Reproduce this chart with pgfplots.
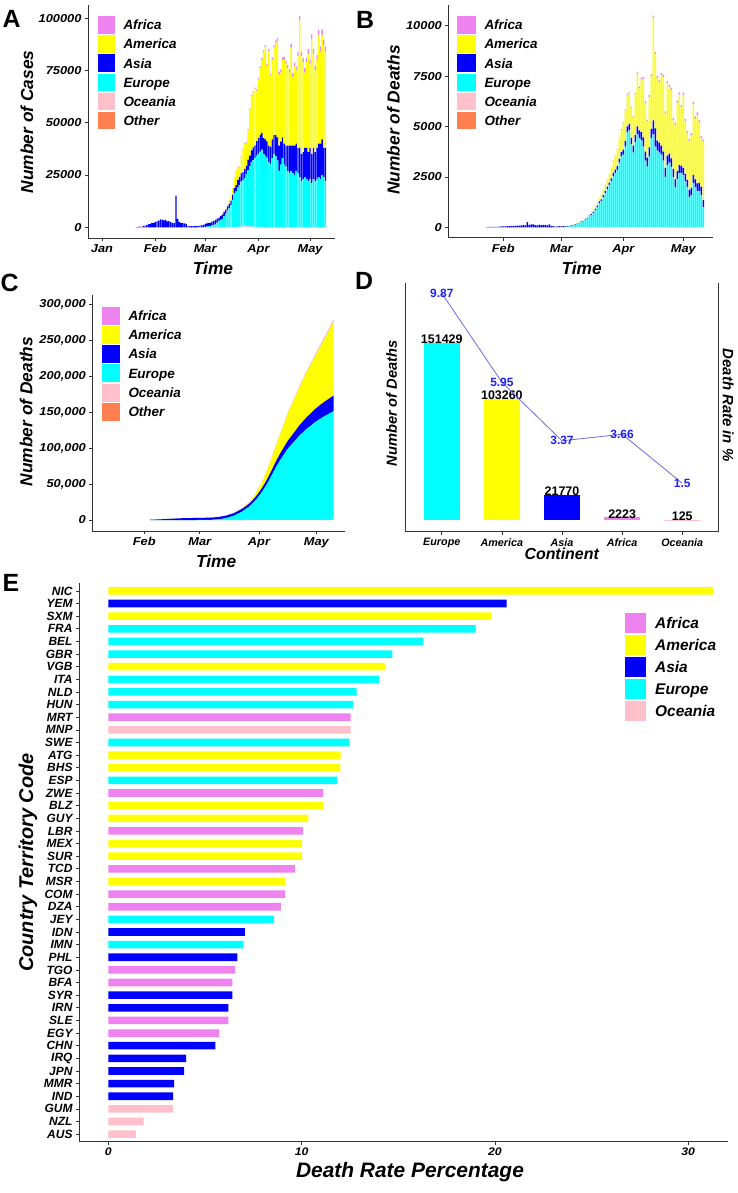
\documentclass[border=0pt]{standalone}
\usepackage{fontspec}
\setmainfont{Liberation Sans}
\newfontfamily\stretchfont[FakeStretch=1.12]{Liberation Sans}
\usepackage{pgfplots}
\pgfplotsset{compat=1.18}
\usepackage{pgfplotstable}

\definecolor{cAf}{HTML}{EE82EE}
\definecolor{cAm}{HTML}{FFFF00}
\definecolor{cAs}{HTML}{0000FF}
\definecolor{cEu}{HTML}{00FFFF}
\definecolor{cOc}{HTML}{FFC0CB}
\definecolor{cOt}{HTML}{FF7F50}
\definecolor{axgray}{HTML}{333333}
\definecolor{lineblue}{HTML}{6A6AE6}
\definecolor{labelblue}{HTML}{1E1EFF}

\newcommand{\fs}[1]{\fontsize{#1}{#1}\selectfont}
\newcommand{\bi}{\bfseries\itshape}
% legend item: x, ycenter, w, h, color, textx, fontsize, text
\newcommand{\legitem}[8]{%
  \fill[#5] (#1bp,-#2bp+#4bp/2) rectangle (#1bp+#3bp,-#2bp-#4bp/2);
  \node[anchor=base west, inner sep=0pt, font=\bi\fs{#7}] at (#6bp,-#2bp-0.36*#7bp) {#8};}

\pgfplotsset{
  panel/.style={
    scale only axis, anchor=south west,
    axis x line*=bottom, axis y line*=left,
    axis line style={-, draw=axgray, line width=0.9bp},
    tick align=outside, major tick length=3bp,
    tick style={draw=axgray, line width=0.7bp},
    tick label style={font=\stretchfont\bfseries\itshape\fs{11.5}},
    label style={font=\bfseries\itshape\fs{17.4}},
    scaled ticks=false,
  },
}

% Panel A: daily new cases by continent
\pgfplotstableread{
d oc eu as am af
20 0 0 100 0 0
21 0 0 150 0 0
22 0 0 300 0 0
23 0 0 250 0 0
24 0 0 700 0 0
25 0 0 750 0 0
26 0 0 1000 0 0
27 0 0 1500 0 0
28 0 0 1700 0 0
29 0 0 2000 0 0
30 0 0 2100 0 0
31 0 0 2600 0 0
32 0 0 2800 0 0
33 0 0 3200 0 0
34 0 0 3800 0 0
35 0 0 3700 0 0
36 0 0 3300 0 0
37 0 0 3500 0 0
38 0 0 2800 0 0
39 0 0 3000 0 0
40 0 0 2500 0 0
41 0 0 2100 0 0
42 0 0 2000 0 0
43 0 0 15100 0 0
44 0 0 4000 0 0
45 0 0 2600 0 0
46 0 0 2100 0 0
47 0 0 2000 0 0
48 0 0 1900 0 0
49 0 0 1700 0 0
50 0 0 600 0 0
51 0 0 500 0 0
52 0 0 600 0 0
53 0 0 500 0 0
54 0 10 500 0 0
55 0 20 500 0 0
56 0 30 600 0 0
57 0 50 700 0 0
58 0 80 900 10 0
59 0 120 1100 10 0
60 0 200 1500 20 0
61 0 300 1600 30 0
62 0 400 1700 40 0
63 0 600 1500 50 0
64 0 900 1800 100 0
65 0 1200 1800 100 0
66 0 1600 2000 200 10
67 0 2200 1900 200 10
68 10 2800 1700 300 20
69 10 3500 1800 400 20
70 20 4000 2000 500 30
71 20 5500 1700 600 40
72 30 6500 1800 800 50
73 40 8000 2000 1100 60
74 50 9000 2200 1700 80
75 80 10500 2200 2200 100
76 100 13000 2500 3000 120
77 150 16000 2700 5000 150
78 200 17000 3000 7000 200
79 250 19000 3500 6000 200
80 300 20000 3700 5000 250
81 350 21500 4000 8000 300
82 400 22000 4000 11000 350
83 400 23000 4500 12000 400
84 400 25000 4000 11000 400
85 400 27000 5000 14000 450
86 350 29000 5000 22000 500
87 300 31000 5500 26000 500
88 300 32000 6000 26000 600
89 250 33000 6000 27000 600
90 250 34000 7000 24000 700
91 200 35000 7500 28000 800
92 200 36000 8000 32000 800
93 150 37000 8000 35000 900
94 150 35000 7500 41000 900
95 100 34000 8000 44000 1000
96 100 33000 8000 36000 1000
97 100 31000 8000 45000 1100
98 100 30000 8500 34000 1100
99 80 33000 9000 38000 1200
100 80 35000 9000 42000 1200
101 60 34000 10000 44000 1300
102 60 32000 11000 46000 1300
103 50 27000 12000 34000 1400
104 50 30000 11000 33000 1400
105 50 33000 10000 37000 1500
106 40 30000 10000 40000 1500
107 40 29000 10000 39000 1600
108 40 27000 12000 37000 1600
109 30 26000 13000 35000 1700
110 30 27000 12000 47000 1700
111 30 26000 13000 33000 1800
112 30 25000 14000 38000 1800
113 30 27000 13000 35000 1900
114 30 26000 12000 44000 1900
115 20 24000 14000 61000 2000
116 20 22000 13000 47000 2000
117 20 23000 13000 43000 2100
118 20 24000 14000 36000 2100
119 20 23000 15000 41000 2200
120 20 22000 14000 47000 2200
121 20 23000 15000 40000 2300
122 20 21000 14000 55000 2300
123 20 23000 15000 45000 2400
124 20 22000 14000 39000 2400
125 20 23000 15000 42000 2500
126 20 24000 16000 52000 2500
127 20 23000 17000 44000 2500
128 20 25000 17000 50000 2600
129 20 24000 14000 49000 2600
130 20 22000 16000 46000 2600
}\Adata

% Panel B: daily deaths by continent
\pgfplotstableread{
d oc eu as am af
23 0 0 8 0 0
24 0 0 16 0 0
25 0 0 15 0 0
26 0 0 24 0 0
27 0 0 26 0 0
28 0 0 26 0 0
29 0 0 38 0 0
30 0 0 43 0 0
31 0 0 46 0 0
32 0 0 45 0 0
33 0 0 57 0 0
34 0 0 64 0 0
35 0 0 66 0 0
36 0 0 73 0 0
37 0 0 73 0 0
38 0 0 86 0 0
39 0 0 89 0 0
40 0 0 97 0 0
41 0 0 108 0 0
42 0 0 97 0 0
43 0 0 254 0 0
44 0 0 121 0 0
45 0 0 143 0 0
46 0 0 142 0 0
47 0 0 105 0 0
48 0 0 98 0 0
49 0 0 136 0 0
50 0 0 114 0 0
51 0 0 118 0 0
52 0 0 109 0 0
53 0 0 97 0 0
54 0 1 150 0 0
55 0 1 71 0 0
56 0 2 52 0 0
57 0 5 29 0 0
58 0 4 44 0 0
59 0 9 47 1 0
60 0 11 35 1 0
61 0 14 42 1 0
62 0 20 31 2 0
63 0 30 38 3 0
64 0 45 31 3 0
65 0 60 30 4 0
66 0 95 28 5 0
67 0 120 27 8 0
68 0 190 22 10 0
69 0 200 25 12 0
70 0 260 30 15 0
71 0 290 30 20 0
72 0 360 35 25 1
73 0 430 40 40 1
74 0 540 45 50 2
75 0 600 50 60 3
76 0 700 60 80 4
77 0 850 70 100 5
78 0 1000 80 120 6
79 0 1200 80 150 8
80 0 1300 90 200 10
81 1 1500 100 250 12
82 1 1700 100 300 15
83 2 1900 110 350 15
84 2 2100 120 400 20
85 2 2300 130 500 25
86 3 2550 150 600 30
87 3 2700 160 700 30
88 4 2850 180 800 35
89 5 3200 200 1000 40
90 5 3500 230 1100 45
91 5 3600 250 1300 50
92 6 4000 280 1500 50
93 6 4700 300 1550 60
94 7 4800 320 1500 60
95 7 4100 330 1500 60
96 7 3700 350 1400 65
97 8 4200 380 2000 70
98 8 4600 400 2600 80
99 7 4400 400 2100 80
100 6 4300 420 2600 80
101 6 4000 450 2900 90
102 6 3300 450 2400 90
103 5 3000 450 1800 90
104 5 3500 460 2500 90
105 5 4400 480 2600 100
106 5 4600 700 5100 100
107 4 4000 900 3700 100
108 4 3800 500 3100 100
109 3 3700 500 3000 100
110 3 3600 450 3500 100
111 3 3300 450 3700 100
112 3 2500 450 2700 100
113 2 3100 450 3600 100
114 2 3200 450 3300 110
115 2 3000 420 3400 110
116 2 2500 400 2400 110
117 1 2000 380 2700 110
118 1 2400 380 3400 110
119 1 2700 380 3500 110
120 1 2700 350 2900 110
121 1 2600 350 3600 120
122 1 2300 350 2600 120
123 1 2000 350 2300 120
124 1 1500 350 2400 120
125 1 1600 350 2600 120
126 1 2200 400 3500 120
127 1 2000 380 3000 120
128 1 1800 380 3400 120
129 1 1800 400 3000 120
130 1 1600 400 2400 120
131 0 1000 350 2900 110
}\Bdata

% Panel C: cumulative deaths by continent
\pgfplotstableread{
d oc eu as am af
34 0 0 400 0 0
38 0 0 800 0 0
42 0 0 1300 0 0
46 0 0 1900 0 0
50 0 0 2400 0 0
54 0 0 2700 0 0
58 0 0 2850 0 0
62 0 60 3000 10 0
66 0 250 3150 20 0
70 0 900 3300 40 0
74 0 2800 3450 100 10
78 1 6000 3650 250 20
82 5 11500 3900 600 40
84 10 15000 4000 1100 60
86 15 19000 4200 2000 80
88 20 24000 4500 3400 110
90 25 30000 4800 5200 150
92 35 37000 5200 7500 200
94 45 45000 5800 10500 260
96 55 54000 6500 14000 330
98 65 64000 7300 18000 400
100 75 74000 8200 22000 480
102 80 83000 9200 27000 560
104 85 91000 10100 32000 650
106 90 99000 11000 38000 750
108 95 105000 12000 43000 850
110 100 111000 13000 48000 950
112 105 117000 14300 53000 1050
114 108 122000 15300 58000 1150
116 110 127000 16300 63000 1250
118 112 131000 17200 68000 1350
120 115 135500 18200 73000 1450
122 117 139000 19000 78000 1550
124 119 142500 19800 84000 1700
126 121 145500 20500 90000 1850
128 123 148500 21200 96500 2000
130 125 151429 21770 103260 2223
}\Cdata

\begin{document}
\begin{tikzpicture}
\useasboundingbox (0,0) rectangle (738bp,-1193bp);

% ---------------- Panel A ----------------
\begin{axis}[panel, at={(88bp,-238bp)}, width=247bp, height=233bp,
  xmin=-8.14, xmax=135.5, ymin=-5120, ymax=106370,
  xtick={0,31,60,91,121}, xticklabels={Jan,Feb,Mar,Apr,May},
  ytick={0,25000,50000,75000,100000}, yticklabels={0,25000,50000,75000,100000},
  xlabel={Time}, ylabel={Number of Cases},
  xlabel style={at={(axis description cs:0.506,-0.129)}, anchor=center},
  ylabel style={at={(axis description cs:-0.247,0.498)}, anchor=center},
  ybar stacked, bar width=0.78]
\addplot[fill=cOc, draw=none] table[x=d, y=oc] {\Adata};
\addplot[fill=cEu, draw=none] table[x=d, y=eu] {\Adata};
\addplot[fill=cAs, draw=none] table[x=d, y=as] {\Adata};
\addplot[fill=cAm, draw=none] table[x=d, y=am] {\Adata};
\addplot[fill=cAf, draw=none] table[x=d, y=af] {\Adata};
\end{axis}
\legitem{97.7}{25}{17.3}{17.6}{cAf}{123.3}{13.5}{Africa}
\legitem{97.7}{44.1}{17.3}{17.6}{cAm}{123.3}{13.5}{America}
\legitem{97.7}{63.2}{17.3}{17.6}{cAs}{123.3}{13.5}{Asia}
\legitem{97.7}{82.3}{17.3}{17.6}{cEu}{123.3}{13.5}{Europe}
\legitem{97.7}{101.4}{17.3}{17.6}{cOc}{123.3}{13.5}{Oceania}
\legitem{97.7}{120.5}{17.3}{17.6}{cOt}{123.3}{13.5}{Other}

% ---------------- Panel B ----------------
\begin{axis}[panel, at={(448.3bp,-237.7bp)}, width=265bp, height=232.7bp,
  xmin=3.5, xmax=136, ymin=-516, ymax=11026,
  xtick={31,60,91,121}, xticklabels={Feb,Mar,Apr,May},
  ytick={0,2500,5000,7500,10000}, yticklabels={0,2500,5000,7500,10000},
  xlabel={Time}, ylabel={Number of Deaths},
  xlabel style={at={(axis description cs:0.503,-0.130)}, anchor=center},
  ylabel style={at={(axis description cs:-0.2075,0.506)}, anchor=center},
  ybar stacked, bar width=0.78]
\addplot[fill=cOc, draw=none] table[x=d, y=oc] {\Bdata};
\addplot[fill=cEu, draw=none] table[x=d, y=eu] {\Bdata};
\addplot[fill=cAs, draw=none] table[x=d, y=as] {\Bdata};
\addplot[fill=cAm, draw=none] table[x=d, y=am] {\Bdata};
\addplot[fill=cAf, draw=none] table[x=d, y=af] {\Bdata};
\end{axis}
\legitem{457.3}{25}{18.7}{17.6}{cAf}{484.3}{13.5}{Africa}
\legitem{457.3}{44.1}{18.7}{17.6}{cAm}{484.3}{13.5}{America}
\legitem{457.3}{63.2}{18.7}{17.6}{cAs}{484.3}{13.5}{Asia}
\legitem{457.3}{82.3}{18.7}{17.6}{cEu}{484.3}{13.5}{Europe}
\legitem{457.3}{101.4}{18.7}{17.6}{cOc}{484.3}{13.5}{Oceania}
\legitem{457.3}{120.5}{18.7}{17.6}{cOt}{484.3}{13.5}{Other}

% ---------------- Panel C ----------------
\begin{axis}[panel, at={(92.3bp,-531bp)}, width=252.7bp, height=236bp,
  xmin=3.8, xmax=136, ymin=-15330, ymax=313500,
  xtick={31,60,91,121}, xticklabels={Feb,Mar,Apr,May},
  ytick={0,50000,100000,150000,200000,250000,300000},
  yticklabels={0,{50,000},{100,000},{150,000},{200,000},{250,000},{300,000}},
  xlabel={Time}, ylabel={Number of Deaths},
  xlabel style={at={(axis description cs:0.49,-0.127)}, anchor=center},
  ylabel style={at={(axis description cs:-0.262,0.506)}, anchor=center},
  stack plots=y]
\addplot[fill=cOc, draw=none] table[x=d, y=oc] {\Cdata} \closedcycle;
\addplot[fill=cEu, draw=none] table[x=d, y=eu] {\Cdata} \closedcycle;
\addplot[fill=cAs, draw=none] table[x=d, y=as] {\Cdata} \closedcycle;
\addplot[fill=cAm, draw=none] table[x=d, y=am] {\Cdata} \closedcycle;
\addplot[fill=cAf, draw=none] table[x=d, y=af] {\Cdata} \closedcycle;
\end{axis}
\legitem{101.7}{315.7}{18.3}{18}{cAf}{128.3}{13.5}{Africa}
\legitem{101.7}{334.9}{18.3}{18}{cAm}{128.3}{13.5}{America}
\legitem{101.7}{354.1}{18.3}{18}{cAs}{128.3}{13.5}{Asia}
\legitem{101.7}{373.3}{18.3}{18}{cEu}{128.3}{13.5}{Europe}
\legitem{101.7}{392.5}{18.3}{18}{cOc}{128.3}{13.5}{Oceania}
\legitem{101.7}{411.7}{18.3}{18}{cOt}{128.3}{13.5}{Other}

% ---------------- Panel D ----------------
\begin{axis}[scale only axis, anchor=south west, at={(405.7bp,-531.7bp)}, width=312.6bp, height=248.7bp,
  axis x line*=bottom, axis y line*=left, axis line style={-, draw=axgray, line width=0.9bp},
  tick align=outside, major tick length=3bp, tick style={draw=axgray, line width=0.7bp},
  xmin=-0.6, xmax=4.6, ymin=-9990, ymax=202400, ytick=\empty,
  xtick={0,1,2,3,4}, xticklabels={Europe,America,Asia,Africa,Oceania},
  xticklabel style={font=\bfseries\itshape\fs{10.8}},
  xlabel={Continent}, xlabel style={at={(axis description cs:0.499,-0.087)}, anchor=center, font=\bi\fs{16}},
  ylabel={Number of Deaths}, ylabel style={at={(axis description cs:-0.045,0.516)}, anchor=center, font=\bi\fs{14.7}},
  ybar, bar width=0.6, bar shift=0pt,
  nodes near coords, point meta=explicit symbolic,
  every node near coord/.append style={anchor=center, yshift=3.5bp, font=\bfseries\fs{12.5}, text=black}]
\addplot[fill=cEu, draw=none] coordinates {(0,151429) [151429]};
\addplot[fill=cAm, draw=none] coordinates {(1,103260) [103260]};
\addplot[fill=cAs, draw=none] coordinates {(2,21770) [21770]};
\addplot[fill=cAf, draw=none] coordinates {(3,2223) [2223]};
\addplot[fill=cOc, draw=none] coordinates {(4,125) [125]};
\end{axis}
\begin{axis}[scale only axis, anchor=south west, at={(405.7bp,-531.7bp)}, width=312.6bp, height=248.7bp,
  axis x line=none, axis y line*=right, axis line style={-, draw=axgray, line width=0.9bp},
  xmin=-0.6, xmax=4.6, ymin=-0.634, ymax=10.32, ytick=\empty, clip=false,
  ylabel={Death Rate in \%},
  ylabel style={at={(axis description cs:1.032,0.509)}, anchor=center, rotate=180, font=\bi\fs{15}}]
\addplot[draw=lineblue, line width=0.8bp, mark=none,
  nodes near coords, point meta=explicit symbolic,
  every node near coord/.append style={anchor=center, font=\bfseries\fs{12}, text=labelblue}]
  coordinates {(0,9.87) [9.87] (1,5.95) [5.95] (2,3.37) [3.37] (3,3.66) [3.66] (4,1.5) [1.5]};
\end{axis}

% ---------------- Panel E ----------------
\begin{axis}[scale only axis, anchor=south west, at={(79bp,-1141.7bp)}, width=649bp, height=558.4bp,
  axis x line*=bottom, axis y line*=left, axis line style={-, draw=axgray, line width=0.9bp},
  tick align=outside, major tick length=3bp, tick style={draw=axgray, line width=0.7bp},
  xmin=-1.52, xmax=32.06, ymin=-0.6, ymax=43.6,
  xtick={0,10,20,30}, xticklabels={0,10,20,30},
  xticklabel style={font=\stretchfont\bfseries\itshape\fs{11}},
  ytick={0,...,43},
  yticklabels={AUS,NZL,GUM,IND,MMR,JPN,IRQ,CHN,EGY,SLE,IRN,SYR,BFA,TGO,PHL,IMN,IDN,JEY,DZA,COM,MSR,TCD,SUR,MEX,LBR,GUY,BLZ,ZWE,ESP,BHS,ATG,SWE,MNP,MRT,HUN,NLD,ITA,VGB,GBR,BEL,FRA,SXM,YEM,NIC},
  yticklabel style={font=\bfseries\itshape\fs{12}},
  xlabel={Death Rate Percentage}, xlabel style={at={(axis description cs:0.51,-0.054)}, anchor=center, font=\bi\fs{21}},
  ylabel={Country Territory Code}, ylabel style={at={(axis description cs:-0.0786,0.5)}, anchor=center, font=\bi\fs{20}},
  xbar, bar width=0.6, bar shift=0pt]
\addplot[fill=cAm, draw=none] coordinates {(31.3,43) (19.8,41) (14.3,37) (12.02,30) (12.0,29) (11.12,26) (10.35,25) (10.02,23) (10.02,22) (9.14,20)};
\addplot[fill=cAs, draw=none] coordinates {(20.6,42) (7.06,16) (6.68,14) (6.42,11) (6.21,10) (5.54,7) (4.02,6) (3.92,5) (3.40,4) (3.35,3)};
\addplot[fill=cEu, draw=none] coordinates {(19.0,40) (16.3,39) (14.7,38) (14.0,36) (12.85,35) (12.67,34) (12.47,31) (11.85,28) (8.57,17) (7.0,15)};
\addplot[fill=cAf, draw=none] coordinates {(12.54,33) (11.12,27) (10.07,24) (9.66,21) (9.14,19) (8.93,18) (6.57,13) (6.42,12) (6.21,9) (5.74,8)};
\addplot[fill=cOc, draw=none] coordinates {(12.54,32) (3.35,2) (1.83,1) (1.42,0)};
\end{axis}
\legitem{625}{623.3}{21}{20}{cAf}{655}{15.5}{Africa}
\legitem{625}{645.15}{21}{20}{cAm}{655}{15.5}{America}
\legitem{625}{667}{21}{20}{cAs}{655}{15.5}{Asia}
\legitem{625}{688.85}{21}{20}{cEu}{655}{15.5}{Europe}
\legitem{625}{710.7}{21}{20}{cOc}{655}{15.5}{Oceania}

% ---------------- Panel letters ----------------
\node[font=\bfseries\fs{25}, inner sep=0pt] at (11.7bp,-19.2bp) {A};
\node[font=\bfseries\fs{25}, inner sep=0pt] at (365bp,-20bp) {B};
\node[font=\bfseries\fs{25}, inner sep=0pt] at (9.5bp,-282.5bp) {C};
\node[font=\bfseries\fs{25}, inner sep=0pt] at (364bp,-281bp) {D};
\node[font=\bfseries\fs{25}, inner sep=0pt] at (11bp,-582.5bp) {E};
\end{tikzpicture}
\end{document}
